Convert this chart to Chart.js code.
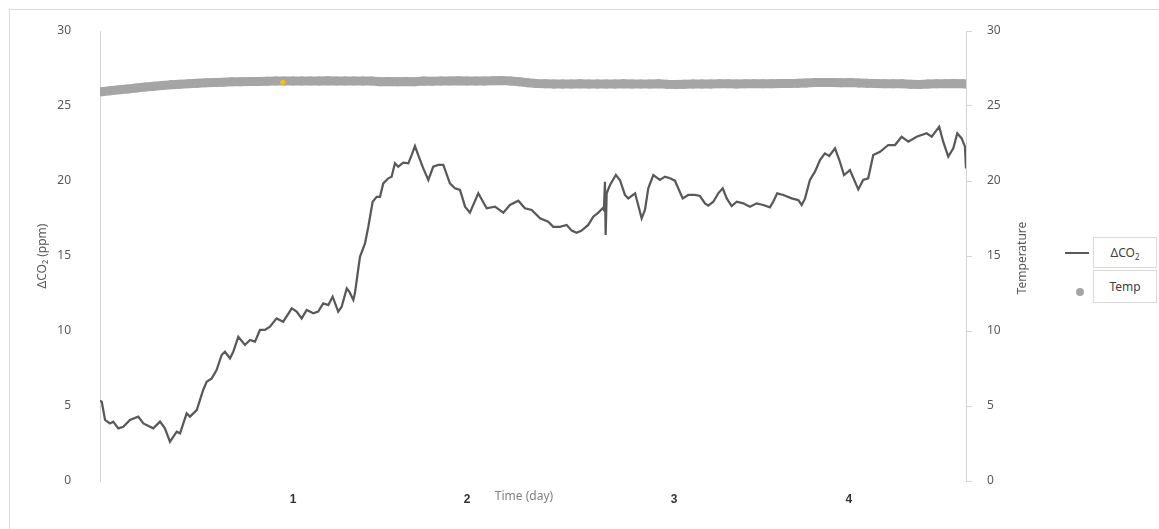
<!DOCTYPE html>
<html>
<head>
<meta charset="utf-8">
<script src="https://cdn.jsdelivr.net/npm/chart.js@4"></script>
<style>
  body { margin: 0; background: #fff; }
  #wrap { position: relative; width: 1159px; height: 529px; overflow: hidden; background: #fff; }
  #frame { position: absolute; left: 9px; top: 9px; width: 1300px; height: 700px;
           border-top: 1px solid #d9d9d9; border-left: 1px solid #d9d9d9; }
  #chart { position: absolute; left: 0; top: 0; }
  .lg-box { position: absolute; left: 1093px; width: 64px; box-sizing: border-box;
            border: 1px solid #d9d9d9; background: #fff; text-align: center;
            font: 12px "Noto Sans", "DejaVu Sans", sans-serif; color: #404040; }
  .lg-box sub { font-size: 8px; }
  #lg-line { position: absolute; left: 1065px; top: 252px; width: 24px; height: 2px; background: #595959; }
  #lg-dot { position: absolute; left: 1076px; top: 288px; width: 8px; height: 8px; border-radius: 50%; background: #a5a5a5; }
</style>
</head>
<body>
<div id="wrap">
  <div id="frame"></div>
  <canvas id="chart" width="1159" height="529"></canvas>
  <div id="lg-line"></div>
  <div class="lg-box" style="top:237px;height:31px;line-height:29px;">ΔCO<sub>2</sub></div>
  <div id="lg-dot"></div>
  <div class="lg-box" style="top:270px;height:33px;line-height:31px;">Temp</div>
</div>
<script>
// ΔCO2 (ppm) over time (days)
const co2Days = [
  -0.109, -0.099, -0.080, -0.052, -0.033, -0.004, 0.025, 0.063, 0.111, 0.140,
  0.197, 0.236, 0.264, 0.293, 0.332, 0.351, 0.389, 0.408, 0.447, 0.484,
  0.504, 0.533, 0.561, 0.590, 0.609, 0.638, 0.657, 0.686, 0.724, 0.753,
  0.782, 0.810, 0.839, 0.868, 0.906, 0.944, 0.993, 1.021, 1.050, 1.079,
  1.117, 1.145, 1.174, 1.203, 1.228, 1.260, 1.280, 1.309, 1.324, 1.347,
  1.356, 1.385, 1.414, 1.433, 1.458, 1.481, 1.500, 1.519, 1.548, 1.567,
  1.586, 1.605, 1.634, 1.663, 1.682, 1.701, 1.720, 1.749, 1.778, 1.806,
  1.835, 1.864, 1.902, 1.931, 1.960, 1.989, 2.017, 2.065, 2.113, 2.161,
  2.209, 2.247, 2.295, 2.333, 2.372, 2.420, 2.467, 2.496, 2.534, 2.573,
  2.602, 2.630, 2.659, 2.697, 2.726, 2.755, 2.780, 2.787, 2.793, 2.797,
  2.803, 2.822, 2.856, 2.879, 2.908, 2.927, 2.966, 2.984, 3.004, 3.023,
  3.042, 3.071, 3.109, 3.138, 3.167, 3.195, 3.240, 3.272, 3.310, 3.339,
  3.368, 3.387, 3.416, 3.444, 3.470, 3.493, 3.521, 3.550, 3.588, 3.626,
  3.665, 3.703, 3.741, 3.760, 3.783, 3.818, 3.866, 3.904, 3.924, 3.943,
  3.971, 4.000, 4.029, 4.057, 4.082, 4.115, 4.140, 4.167, 4.201, 4.249,
  4.277, 4.306, 4.335, 4.374, 4.421, 4.460, 4.498, 4.537, 4.584, 4.642,
  4.671, 4.714, 4.737, 4.766, 4.795, 4.818, 4.843, 4.862, 4.868
];
const co2Vals = [
  5.35, 5.29, 4.07, 3.84, 3.96, 3.51, 3.62, 4.07, 4.29, 3.84,
  3.51, 3.96, 3.51, 2.62, 3.29, 3.18, 4.51, 4.29, 4.73, 6.07,
  6.62, 6.84, 7.40, 8.40, 8.62, 8.18, 8.62, 9.62, 9.07, 9.40,
  9.29, 10.07, 10.07, 10.29, 10.84, 10.62, 11.51, 11.29, 10.84, 11.40,
  11.18, 11.29, 11.84, 11.73, 12.29, 11.29, 11.62, 12.84, 12.62, 12.07,
  12.51, 14.95, 15.84, 16.95, 18.62, 18.95, 18.95, 19.84, 20.18, 20.29,
  21.18, 20.95, 21.22, 21.18, 21.73, 22.33, 21.73, 20.84, 20.07, 20.95,
  21.07, 21.07, 19.84, 19.51, 19.40, 18.29, 17.89, 19.18, 18.18, 18.29,
  17.89, 18.40, 18.69, 18.18, 18.07, 17.51, 17.29, 16.95, 16.95, 17.07,
  16.69, 16.55, 16.69, 17.07, 17.62, 17.89, 18.18, 18.07, 19.95, 16.40,
  19.18, 19.73, 20.40, 20.07, 19.07, 18.84, 19.18, 18.40, 17.51, 18.07,
  19.51, 20.40, 20.07, 20.29, 20.18, 20.02, 18.84, 19.07, 19.07, 19.00,
  18.51, 18.36, 18.62, 19.18, 19.51, 18.84, 18.33, 18.62, 18.51, 18.29,
  18.51, 18.40, 18.24, 18.62, 19.18, 19.07, 18.84, 18.73, 18.40, 18.84,
  20.07, 20.62, 21.40, 21.84, 21.67, 22.18, 21.40, 20.40, 20.73, 19.44,
  20.07, 20.18, 21.73, 21.95, 22.40, 22.40, 22.95, 22.62, 22.95, 23.18,
  22.95, 23.62, 22.62, 21.62, 22.18, 23.18, 22.84, 22.29, 20.84
];

// temperature readings (right axis)
const tempDays = [
  -0.10, -0.05, 0.00, 0.05, 0.10, 0.15, 0.20, 0.25, 0.30, 0.35,
  0.40, 0.45, 0.50, 0.55, 0.60, 0.65, 0.70, 0.75, 0.80, 0.85,
  0.90, 0.95, 1.00, 1.05, 1.10, 1.15, 1.20, 1.25, 1.30, 1.35,
  1.40, 1.45, 1.50, 1.55, 1.60, 1.65, 1.70, 1.75, 1.80, 1.85,
  1.90, 1.95, 2.00, 2.05, 2.10, 2.15, 2.20, 2.25, 2.30, 2.35,
  2.40, 2.45, 2.50, 2.55, 2.60, 2.65, 2.70, 2.75, 2.80, 2.85,
  2.90, 2.95, 3.00, 3.05, 3.10, 3.15, 3.20, 3.25, 3.30, 3.35,
  3.40, 3.45, 3.50, 3.55, 3.60, 3.65, 3.70, 3.75, 3.80, 3.85,
  3.90, 3.95, 4.00, 4.05, 4.10, 4.15, 4.20, 4.25, 4.30, 4.35,
  4.40, 4.45, 4.50, 4.55, 4.60, 4.65, 4.70, 4.75, 4.80, 4.85,
  4.87
];
const tempVals = [
  25.95, 26.02, 26.08, 26.14, 26.20, 26.26, 26.32, 26.37, 26.41, 26.45,
  26.49, 26.52, 26.55, 26.57, 26.59, 26.61, 26.62, 26.63, 26.64, 26.65,
  26.66, 26.66, 26.67, 26.67, 26.66, 26.67, 26.68, 26.67, 26.66, 26.67,
  26.67, 26.66, 26.62, 26.63, 26.61, 26.64, 26.62, 26.66, 26.65, 26.66,
  26.67, 26.68, 26.67, 26.66, 26.67, 26.68, 26.70, 26.66, 26.62, 26.55,
  26.50, 26.48, 26.47, 26.46, 26.47, 26.48, 26.47, 26.46, 26.47, 26.47,
  26.48, 26.47, 26.46, 26.47, 26.48, 26.45, 26.44, 26.45, 26.46, 26.47,
  26.47, 26.48, 26.48, 26.47, 26.48, 26.49, 26.48, 26.49, 26.50, 26.50,
  26.51, 26.54, 26.56, 26.57, 26.56, 26.55, 26.56, 26.54, 26.51, 26.50,
  26.49, 26.48, 26.48, 26.45, 26.43, 26.46, 26.48, 26.49, 26.50, 26.49,
  26.47
];

// the one highlighted reading
const markDays = [0.941];
const markVals = [26.58];

// x labels sit at these positions (day units)
const xTickLabels = ["1", "2", "3", "4"];
const xTickAt = [1.0, 2.0, 3.19, 4.195];

const yTicks = [0, 5, 10, 15, 20, 25, 30];

const pairs = (xs, ys) => xs.map((x, i) => ({ x: x, y: ys[i] }));

const baseFont = "'Noto Sans', 'DejaVu Sans', sans-serif";

// titles Excel put in odd places
const extraTitles = {
  id: "extraTitles",
  afterDraw(chart) {
    const ctx = chart.ctx;
    ctx.save();
    ctx.font = "12px " + baseFont;
    ctx.fillStyle = "#7f7f7f";
    ctx.textAlign = "center";
    ctx.textBaseline = "middle";
    ctx.fillText("Time (day)", 524, 497);
    ctx.fillStyle = "#595959";
    ctx.translate(1023, 258);
    ctx.rotate(-Math.PI / 2);
    ctx.fillText("Temperature", 0, 0);
    ctx.restore();
  }
};

new Chart(document.getElementById("chart"), {
  type: "scatter",
  data: {
    datasets: [
      {
        label: "Temp",
        data: pairs(tempDays, tempVals),
        yAxisID: "yT",
        showLine: true,
        borderColor: "#a5a5a5",
        borderWidth: 9,
        borderCapStyle: "round",
        borderJoinStyle: "round",
        backgroundColor: "#a5a5a5",
        pointBorderWidth: 0,
        pointRadius: 4.5,
        pointHoverRadius: 4.5,
        order: 2
      },
      {
        label: "mark",
        data: pairs(markDays, markVals),
        yAxisID: "yT",
        backgroundColor: "#ffc000",
        borderWidth: 0,
        pointRadius: 2.5,
        order: 0
      },
      {
        label: "ΔCO₂",
        data: pairs(co2Days, co2Vals),
        yAxisID: "y",
        showLine: true,
        borderColor: "#595959",
        borderWidth: 2.25,
        pointRadius: 0,
        tension: 0,
        order: 1
      }
    ]
  },
  options: {
    responsive: false,
    animation: false,
    devicePixelRatio: 1,
    layout: { padding: { top: 31, left: 0, right: 0, bottom: 0 } },
    plugins: { legend: { display: false }, tooltip: { enabled: false } },
    scales: {
      x: {
        type: "linear",
        min: -0.109,
        max: 4.868,
        afterBuildTicks: (scale) => { scale.ticks = xTickAt.map(v => ({ value: v })); },
        afterFit: (scale) => { scale.height = 48; },
        grid: { display: false },
        border: { display: false },
        ticks: {
          autoSkip: false,
          maxRotation: 0,
          padding: 3,
          color: "#333333",
          font: { family: "'Liberation Sans', sans-serif", size: 12, weight: "bold" },
          callback: (v, i) => xTickLabels[i]
        }
      },
      y: {
        position: "left",
        min: 0,
        max: 30,
        afterBuildTicks: (scale) => { scale.ticks = yTicks.map(v => ({ value: v })); },
        afterFit: (scale) => { scale.width = 100; },
        grid: { display: false },
        border: { display: true, color: "#d4d4d4", width: 1 },
        ticks: { padding: 21, color: "#595959", font: { family: baseFont, size: 12 } },
        title: {
          display: true,
          text: "ΔCO₂ (ppm)",
          color: "#595959",
          font: { family: baseFont, size: 12 },
          padding: { top: 35, bottom: 0 }
        }
      },
      yT: {
        position: "right",
        min: 0,
        max: 30,
        afterBuildTicks: (scale) => { scale.ticks = yTicks.map(v => ({ value: v })); },
        afterFit: (scale) => { scale.width = 193; },
        grid: { display: true, drawOnChartArea: false, drawTicks: true, tickLength: 6, color: "#d4d4d4" },
        border: { display: true, color: "#d4d4d4", width: 1 },
        ticks: { padding: 15, color: "#595959", font: { family: baseFont, size: 12 } }
      }
    }
  },
  plugins: [extraTitles]
});
</script>
</body>
</html>
